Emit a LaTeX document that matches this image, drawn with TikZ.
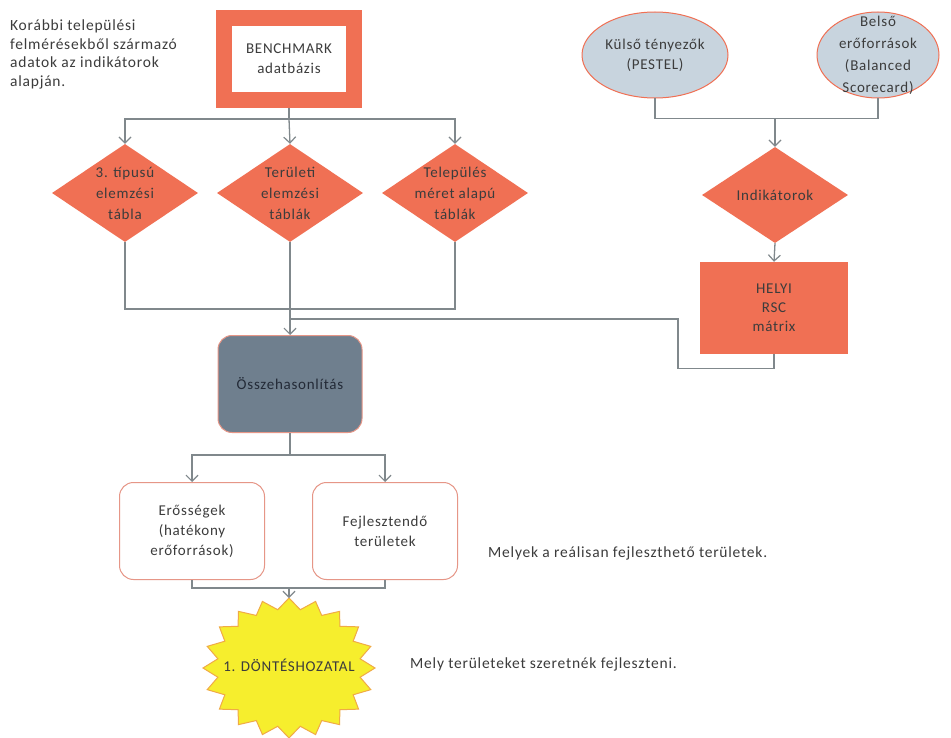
\documentclass[tikz,border=0pt]{standalone}
\usepackage{fontspec}
\setmainfont{Carlito}[LetterSpace=5]
\usetikzlibrary{arrows.meta,shapes.geometric,calc}
\definecolor{orng}{RGB}{240,112,84}
\definecolor{ellfill}{RGB}{200,212,222}
\definecolor{cmpfill}{RGB}{111,127,142}
\definecolor{linegray}{RGB}{128,136,140}
\definecolor{rborder}{RGB}{230,150,135}
\definecolor{staryel}{RGB}{246,238,45}
\definecolor{starborder}{RGB}{240,170,70}
\definecolor{txt}{RGB}{60,60,60}
\definecolor{darktxt}{RGB}{35,42,55}
\begin{document}
\begin{tikzpicture}[x=1pt,y=-1pt,
  every node/.style={font=\fontsize{15}{20}\selectfont, text=txt},
  con/.style={draw=linegray, line width=1.3pt},
  arr/.style={con, -{Straight Barb[length=6pt,width=12pt,line width=1.2pt]}},
  dia/.style={diamond, fill=orng, minimum width=146pt, minimum height=98pt, inner sep=0pt},
  lbl/.style={align=center, inner sep=0pt},
  ell/.style={ellipse, draw=orng, line width=1pt, fill=ellfill, minimum height=86pt, inner sep=0pt},
  rb/.style={draw=rborder, line width=1pt, fill=white, rounded corners=14pt, minimum width=145pt, minimum height=97pt, align=center}
]
\fill[white] (0,0) rectangle (951,738);
\useasboundingbox (0,0) rectangle (951,738);

% left note
\node[anchor=north west, align=left, inner sep=0pt, font=\fontsize{15.5}{18.5}\selectfont] (note) at (10,20) {Korábbi települési\\felmérésekből származó\\adatok az indikátorok\\alapján.};

% benchmark
\node[draw=orng, line width=16pt, fill=white, minimum width=130pt, minimum height=82pt, align=center] (bm) at (289,59) {BENCHMARK\\adatbázis};

% diamonds
\node[dia] (d1) at (125,193) {};
\node[dia] (d2) at (290,193) {};
\node[dia] (d3) at (455,193) {};
\node[lbl, font=\fontsize{15}{21}\selectfont] (t1) at (d1) {3. típusú\\elemzési\\tábla};
\node[lbl, font=\fontsize{15}{21}\selectfont] (t2) at (d2) {Területi\\elemzési\\táblák};
\node[lbl, font=\fontsize{15}{21}\selectfont] (t3) at (d3) {Település\\méret alapú\\táblák};

\coordinate (b1) at ($(bm.south)+(0,11)$);
\draw[con] (bm.south) -- (b1);
\draw[arr] (b1) -| (d1.north);
\draw[arr] (b1) -| (d3.north);
\draw[arr] (b1) -- (d2.north);

% ellipses
\node[ell, minimum width=146pt] (ext) at (655,55) {};
\node[lbl] (extt) at (ext) {Külső tényezők\\(PESTEL)};
\node[ell, minimum width=122pt] (int) at (878,55) {};
\node[lbl, font=\fontsize{15}{22}\selectfont] (intt) at (int) {Belső\\erőforrások\\(Balanced\\Scorecard)};

% indicators
\node[diamond, fill=orng, minimum width=146pt, minimum height=96pt, aspect=1.5, inner sep=0pt] (ind) at (775,195) {Indikátorok};
\coordinate (e1) at ($(ext.south)+(0,20)$);
\draw[con] (ext.south) -- (e1) -| (int.south);
\draw[arr] (e1 -| ind.north) -- (ind.north);

% RSC matrix
\node[fill=orng, minimum width=148pt, minimum height=92pt, align=center, font=\fontsize{15}{19}\selectfont] (rsc) at (774,308) {HELYI\\RSC\\mátrix};
\draw[arr] (ind.south) -- (rsc.north);

% comparison
\node[draw=rborder, line width=1pt, fill=cmpfill, rounded corners=14pt, minimum width=144pt, minimum height=97pt, text=darktxt] (cmp) at (290,384) {Összehasonlítás};
\coordinate (m) at ($(cmp.north)+(0,-26)$);
\draw[con] (d1.south) |- (m) -| (d3.south);
\draw[arr] (d2.south) -- (cmp.north);
\draw[con] (rsc.south) -- ++(0,14) -| ($(cmp.north)+(388,-16)$) -- ($(cmp.north)+(0,-16)$);

% results
\node[rb] (str) at (192,531) {Erősségek\\(hatékony\\erőforrások)};
\node[rb] (dev) at (385,531) {Fejlesztendő\\területek};
\coordinate (s1) at ($(cmp.south)+(0,22)$);
\draw[con] (cmp.south) -- (s1);
\draw[arr] (s1) -| (str.north);
\draw[arr] (s1) -| (dev.north);

% star
\coordinate (sc) at (289,668);
\draw[fill=staryel, draw=starborder, line width=1pt]
  ($(sc)+(90:70pt and 70pt)$)
  \foreach \i in {0,...,19} { -- ($(sc)+({99+\i*18}:72pt and 59pt)$) -- ($(sc)+({108+\i*18}:86pt and 70pt)$) } -- cycle;
\node[lbl] (dec) at ($(sc)+(0,-3)$) {1. DÖNTÉSHOZATAL};
\coordinate (stop) at ($(sc)+(0,-70)$);
\coordinate (s2) at ($(str.south)+(0,8)$);
\draw[con] (str.south) -- (s2) -| (dev.south);
\draw[arr] (s2 -| dec) -- (stop);

% notes
\node[anchor=west, inner sep=0pt, font=\fontsize{15.5}{20}\selectfont] (n1) at (488,553) {Melyek a reálisan fejleszthető területek.};
\node[anchor=west, inner sep=0pt, font=\fontsize{15.5}{20}\selectfont] (n2) at (410,664) {Mely területeket szeretnék fejleszteni.};
\end{tikzpicture}
\end{document}
